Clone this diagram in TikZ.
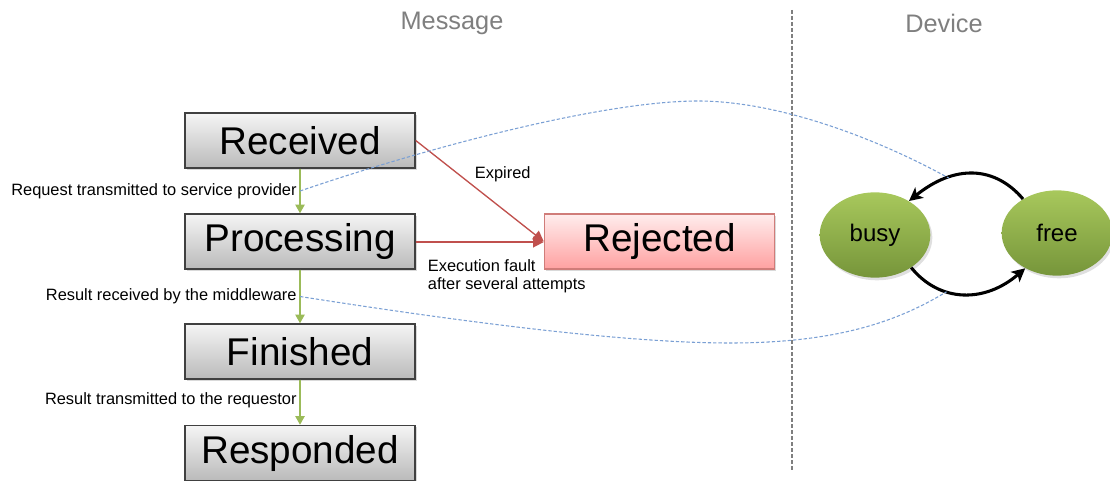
\documentclass[tikz,border=0pt]{standalone}
\usepackage{fontspec}
\setmainfont{Liberation Sans}
\usetikzlibrary{arrows.meta,shapes.geometric,shadows}

\definecolor{verdeflujo}{HTML}{9BBB59}
\definecolor{rojofalla}{HTML}{C0504D}
\definecolor{azulenlace}{HTML}{7BA0D4}
\definecolor{grisdiv}{HTML}{7F7F7F}
\definecolor{verdeclaro}{HTML}{A8C85C}
\definecolor{verdeoscuro}{HTML}{76953A}

\tikzset{
	estado/.style={draw=black!75, line width=1.1pt, top color=black!4, bottom color=black!27,
		minimum width=172.5pt, minimum height=41.25pt, inner sep=0pt,
		font=\fontsize{29}{34}\selectfont,
		drop shadow={shadow xshift=1.2pt, shadow yshift=-1.2pt, opacity=0.3}},
	rechazado/.style={estado, draw=rojofalla!75, top color=red!7, bottom color=red!37},
	equipo/.style={ellipse, minimum width=83pt, minimum height=64pt, inner sep=0pt,
		top color=verdeclaro, bottom color=verdeoscuro, font=\fontsize{18}{22}\selectfont,
		drop shadow={shadow xshift=1.5pt, shadow yshift=-2pt, opacity=0.25}},
	paso/.style={draw=verdeflujo, fill=verdeflujo, line width=1.1pt, -{Triangle[width=7pt,length=6.5pt]}},
	falla/.style={draw=rojofalla, fill=rojofalla, line width=1pt, -{Triangle[width=8pt,length=8pt]}},
	ciclo/.style={line width=2.3pt, -{Stealth[length=10pt,width=10pt,inset=2.5pt]}},
	enlace/.style={azulenlace, line width=0.8pt, dash pattern=on 2.5pt off 1.5pt},
	texto/.style={text=black, fill=none, font=\fontsize{12.3}{13.5}\selectfont, inner sep=2pt},
	titulo/.style={grisdiv, font=\fontsize{19}{22}\selectfont}
}

\begin{document}
\begin{tikzpicture}[x=0.75pt, y=-0.75pt]
	\useasboundingbox (0,0) rectangle (1110,481);

	% Titulos y separador
		\node[titulo] (tmsg) at (452,23) {Message};
		\node[titulo] (tdev) at (944,23) {Device};
		\draw[grisdiv, line width=1.1pt, dash pattern=on 3pt off 1.5pt] (792,10) -- (792,472);

	% Estados del mensaje
		\node[estado] (rcv) at (300,140.5) {Received};
		\node[estado] (proc) at (300,241.5) {Processing};
		\node[estado] (fin) at (300,351.5) {Finished};
		\node[estado] (resp) at (300,453) {Responded};
		\node[rechazado] (rej) at (659.5,241.5) {Rejected};

	% Transiciones normales
		\draw[paso] (rcv) -- coordinate[pos=0.5] (req) node[pos=0.5, left, texto] (lreq) {Request transmitted to service provider} (proc);
		\draw[paso] (proc) -- coordinate[pos=0.5] (res) node[pos=0.5, left, texto] (lres) {Result received by the middleware} (fin);
		\draw[paso] (fin) -- node[pos=0.45, left, texto] (ltra) {Result transmitted to the requestor} (resp);

	% Transiciones a rechazo
		\draw[falla] (rcv.east) -- (rej.west);
		\draw[falla, line width=1.2pt] ([yshift=-0.4pt]proc.east) -- ([yshift=-0.4pt]rej.west);
		\node[texto, anchor=west] (lexp) at (472,174) {Expired};
		\node[texto, anchor=west, align=left] (lfal) at (425,276) {Execution fault\\after several attempts};

	% Estados del equipo
		\node[equipo] (busy) at (875,235) {busy};
		\node[equipo] (free) at (1057,233) {free};
		\draw[ciclo] (free.135) .. controls (995,166) and (955,164) .. coordinate[pos=0.7] (ocupa) (busy.45);
		\draw[ciclo] (busy.-42) .. controls (940,303) and (985,303) .. coordinate[pos=0.35] (libera) (free.-132);

	% Enlaces entre mensaje y equipo
		\draw[enlace] (req) .. controls (420,150) and (600,101) .. (698,101) .. controls (780,101) and (880,140) .. (ocupa);
		\draw[enlace] (res) .. controls (450,320) and (620,343) .. (730,343) .. controls (840,343) and (900,320) .. (libera);
\end{tikzpicture}
\end{document}
